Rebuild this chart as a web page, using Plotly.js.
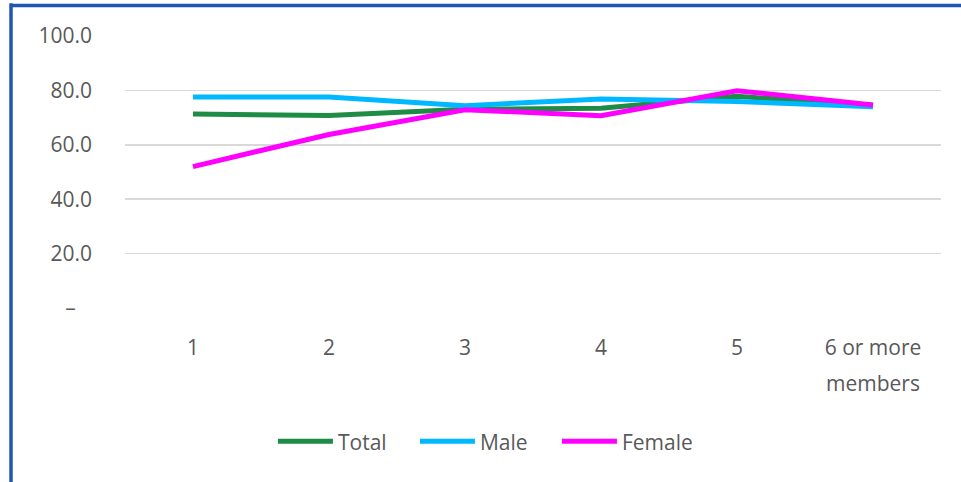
<!DOCTYPE html>
<html>
<head>
<meta charset="utf-8">
<script src="https://cdn.plot.ly/plotly-3.0.1.min.js"></script>
<style>
  html, body { margin: 0; padding: 0; background: #ffffff; }
  #chart { width: 961px; height: 482px; }
</style>
</head>
<body>
<div id="chart"></div>
<script>
// Household size categories (x axis)
const categories = ['1', '2', '3', '4', '5', '6 or more members'];

// Series values (percent)
const totalValues  = [71.3, 70.8, 73.1, 73.4, 77.8, 74.5];
const maleValues   = [77.6, 77.6, 74.4, 76.8, 75.9, 74.0];
const femaleValues = [52.0, 63.8, 72.9, 70.7, 79.9, 74.6];

// Y axis ticks
const yTickValues = [0, 20, 40, 60, 80, 100];
const yTickLabels = ['\u2013\u00a0\u00a0\u00a0', '20.0', '40.0', '60.0', '80.0', '100.0'];

const textColor = '#595959';
const fontFamily = '"Open Sans", "Noto Sans", sans-serif';
const fontSize = 21;

// Long labels: first line goes in the tick label, the rest is set underneath
const tickLines = categories.map(c => {
  const m = c.match(/^(\S+ or more)\s+(.*)$/);
  return m ? [m[1], m[2]] : [c];
});
const xTickText = tickLines.map(l => l[0]);

const annotations = [];
tickLines.forEach((l, i) => {
  if (l.length > 1) {
    annotations.push({
      x: categories[i], xref: 'x',
      y: 0, yref: 'paper', yshift: -59,
      yanchor: 'top', xanchor: 'center',
      text: l.slice(1).join(' '),
      showarrow: false,
      font: { family: fontFamily, size: fontSize, color: textColor }
    });
  }
});

const lineStyle = (color) => ({ color: color, width: 5, shape: 'linear' });

const traces = [
  { name: 'Total',  x: categories, y: totalValues,  type: 'scatter', mode: 'lines', line: lineStyle('#1E8C45') },
  { name: 'Male',   x: categories, y: maleValues,   type: 'scatter', mode: 'lines', line: lineStyle('#00B8FF') },
  { name: 'Female', x: categories, y: femaleValues, type: 'scatter', mode: 'lines', line: lineStyle('#FF00FF') }
];

const layout = {
  width: 961,
  height: 482,
  margin: { l: 125, r: 20, t: 36, b: 174 },
  paper_bgcolor: '#ffffff',
  plot_bgcolor: '#ffffff',
  font: { family: fontFamily, size: fontSize, color: textColor },
  showlegend: true,
  legend: {
    orientation: 'h',
    x: 0.1813, xanchor: 'left',
    y: -0.416, yanchor: 'top',
    itemwidth: 55,
    entrywidth: 72,
    entrywidthmode: 'pixels',
    tracegroupgap: 0,
    font: { family: fontFamily, size: fontSize, color: textColor }
  },
  xaxis: {
    type: 'category',
    tickvals: categories,
    ticktext: xTickText,
    showgrid: false,
    showline: false,
    zeroline: false,
    ticks: '',
    ticklabelstandoff: 25,
    range: [-0.5, categories.length - 0.5],
    fixedrange: true
  },
  yaxis: {
    range: [0, 100],
    tickvals: yTickValues,
    ticktext: yTickLabels,
    showgrid: true,
    gridcolor: '#d9d9d9',
    gridwidth: 1.5,
    zeroline: false,
    showline: false,
    ticks: '',
    ticklabelstandoff: 32,
    fixedrange: true
  },
  annotations: annotations,
  shapes: [
    // blue frame on the left and top edges
    { type: 'line', xref: 'paper', yref: 'paper', x0: -0.1397, x1: -0.1397, y0: 1.12, y1: -0.64,
      line: { color: '#1F55B4', width: 3.5 } },
    { type: 'line', xref: 'paper', yref: 'paper', x0: -0.1397, x1: 1.03, y0: 1.112, y1: 1.112,
      line: { color: '#1F55B4', width: 3.5 } }
  ]
};

Plotly.newPlot('chart', traces, layout, { displayModeBar: false, staticPlot: true });
</script>
</body>
</html>
